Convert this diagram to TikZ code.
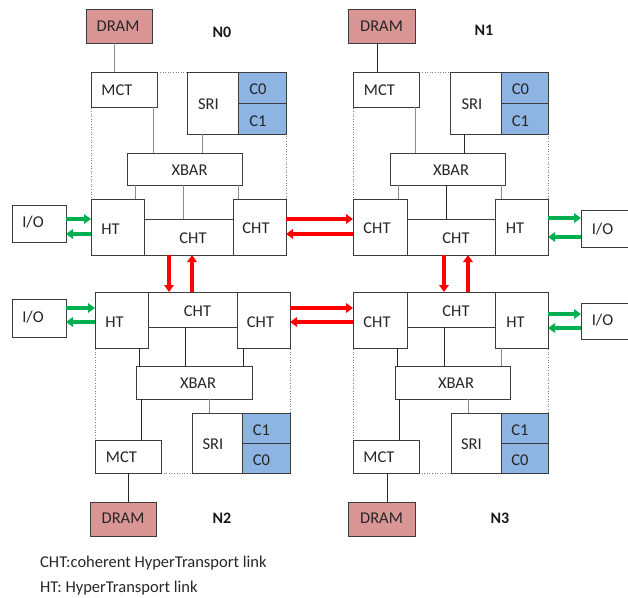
\documentclass[tikz,border=0pt]{standalone}
\usepackage{fontspec}
\setmainfont{Carlito}
\usetikzlibrary{arrows.meta}
\definecolor{dramc}{RGB}{217,150,148}
\definecolor{corec}{RGB}{141,180,226}
\definecolor{boxc}{RGB}{60,60,60}
\definecolor{arrr}{RGB}{255,0,0}
\definecolor{arrg}{RGB}{0,176,80}
\newcommand\bx[9][]{%
 \pgfmathsetmacro\bxcx{(#3+#5)/2}%
 \pgfmathsetmacro\bxcy{(#4+#6)/2}%
 \pgfmathsetmacro\bxw{#5-#3}%
 \pgfmathsetmacro\bxh{#6-#4}%
 \node[box,minimum width=\bxw pt,minimum height=\bxh pt,
   label={[txt,xshift=#8pt,yshift={-(#9pt)}]center:#7},#1] (#2) at (\bxcx,\bxcy) {};}
\tikzset{
 box/.style={draw=boxc,fill=white,line width=0.9pt,inner sep=0pt,outer sep=0pt},
 dram/.style={fill=dramc},
 core/.style={fill=corec},
 txt/.style={font=\fontsize{16.5}{19}\selectfont,text=black!85,inner sep=0pt},
 nlbl/.style={font=\fontsize{16}{19}\selectfont\bfseries,text=black!90,inner sep=0pt},
 outl/.style={draw=gray,dotted,line width=0.6pt},
 ln/.style={draw=black!85,line width=0.9pt},
 lng/.style={draw=gray!90,line width=0.9pt},
 rarr/.style={draw=arrr,line width=3.2pt,-{Triangle[length=7pt,width=9.5pt]}},
 garr/.style={draw=arrg,line width=3.2pt,-{Triangle[length=7pt,width=9.5pt]}},
}
\begin{document}
\begin{tikzpicture}[x=1pt,y=-1pt]
\useasboundingbox (0,0) rectangle (628,597);
% ---------- outlines
\draw[outl] (91,72) rectangle (286,255);
\draw[outl] (353,72) rectangle (548,255);
\draw[outl] (95,292) rectangle (290,473);
\draw[outl] (353,292) rectangle (548,473);
% ---------- N0
\bx[dram]{dram0}{86}{9}{152}{43}{DRAM}{-1}{0}
\node[nlbl] (n0) at (222,32) {N0};
\bx{mct0}{91}{72}{157}{107}{MCT}{-7}{1}
\bx{sri0}{187}{72}{238}{134}{SRI}{-4}{1}
\bx[core]{c00}{238}{72}{286}{103}{C0}{-4}{1.5}
\bx[core]{c10}{238}{103}{286}{134}{C1}{-4}{2.5}
\bx{xbar0}{127}{153}{242}{185}{XBAR}{5}{1}
\bx{ht0}{91}{199}{144}{255}{HT}{-7}{2}
\bx{chtm0}{144}{219}{233}{255}{CHT}{4.5}{1}
\bx{chtr0}{233}{199}{286}{255}{CHT}{-3.5}{1}
\bx{io0}{12}{205}{66}{242}{I/O}{-6}{-1.5}
\draw[lng] (dram0.south -| 114,0) -- (mct0.north -| 114,0);
\draw[lng] (mct0.south -| 153,0) -- (xbar0.north -| 153,0);
\draw[lng] (sri0.south -| 202,0) -- (xbar0.north -| 202,0);
\draw[lng] (xbar0.south -| 135,0) -- (ht0.north -| 135,0);
\draw[lng] (xbar0.south -| 183,0) -- (chtm0.north -| 183,0);
\draw[lng] (xbar0.south -| 238,0) -- (chtr0.north -| 238,0);
% ---------- N1
\bx[dram]{dram1}{348}{9}{415}{43}{DRAM}{0}{0}
\node[nlbl] (n1) at (484,30) {N1};
\bx{mct1}{353}{72}{419}{107}{MCT}{-6.5}{1}
\bx{sri1}{450}{72}{501}{134}{SRI}{-3.5}{1}
\bx[core]{c01}{501}{72}{548}{103}{C0}{-4}{1.5}
\bx[core]{c11}{501}{103}{548}{134}{C1}{-4}{2.5}
\bx{xbar1}{390}{153}{505}{185}{XBAR}{3.5}{1}
\bx{chtl1}{353}{199}{407}{255}{CHT}{-3}{1}
\bx{chtm1}{407}{219}{495}{255}{CHT}{5}{1}
\bx{ht1}{495}{199}{548}{255}{HT}{-6.5}{1}
\bx{io1}{581}{210}{628}{247}{I/O}{-2}{0.5}
\draw[ln] (dram1.south -| 377,0) -- (mct1.north -| 377,0);
\draw[lng] (mct1.south -| 415,0) -- (xbar1.north -| 415,0);
\draw[ln] (sri1.south -| 464,0) -- (xbar1.north -| 464,0);
\draw[lng] (xbar1.south -| 398,0) -- (chtl1.north -| 398,0);
\draw[ln] (xbar1.south -| 446,0) -- (chtm1.north -| 446,0);
\draw[lng] (xbar1.south -| 501,0) -- (ht1.north -| 501,0);
% ---------- N2
\bx{ht2}{95}{292}{148}{348}{HT}{-7}{2}
\bx{chtm2}{148}{292}{237}{327}{CHT}{5}{1.5}
\bx{chtr2}{237}{292}{290}{348}{CHT}{-3}{2}
\bx{xbar2}{136}{366}{252}{399}{XBAR}{4}{0.5}
\bx{sri2}{192}{413}{242}{473}{SRI}{-4}{1}
\bx[core]{c12}{242}{413}{290}{443}{C1}{-4.5}{2}
\bx[core]{c02}{242}{443}{290}{473}{C0}{-4.5}{2}
\bx{mct2}{95}{440}{161}{473}{MCT}{-6.5}{0.5}
\bx[dram]{dram2}{90}{502}{156}{536}{DRAM}{0}{-1}
\node[nlbl] (n2) at (222,518) {N2};
\bx{io2}{12}{299}{66}{337}{I/O}{-6}{-1}
\draw[ln] (ht2.south -| 139,0) -- (xbar2.north -| 139,0);
\draw[ln] (chtm2.south -| 185,0) -- (xbar2.north -| 185,0);
\draw[ln] (chtr2.south -| 243,0) -- (xbar2.north -| 243,0);
\draw[ln] (xbar2.south -| 141,0) -- (mct2.north -| 141,0);
\draw[lng] (xbar2.south -| 209,0) -- (sri2.north -| 209,0);
\draw[ln] (mct2.south -| 128,0) -- (dram2.north -| 128,0);
% ---------- N3
\bx{chtl3}{353}{292}{407}{348}{CHT}{-3}{2}
\bx{chtm3}{407}{292}{495}{327}{CHT}{5}{1.5}
\bx{ht3}{495}{292}{548}{348}{HT}{-6}{2}
\bx{xbar3}{395}{366}{510}{399}{XBAR}{3.5}{0.5}
\bx{sri3}{451}{413}{501}{473}{SRI}{-4.5}{1}
\bx[core]{c13}{501}{413}{548}{443}{C1}{-4.5}{2}
\bx[core]{c03}{501}{443}{548}{473}{C0}{-4.5}{2}
\bx{mct3}{353}{440}{419}{473}{MCT}{-7}{0.5}
\bx[dram]{dram3}{348}{502}{415}{536}{DRAM}{0}{-1}
\node[nlbl] (n3) at (500,518) {N3};
\bx{io3}{581}{303}{628}{339}{I/O}{-2}{-1}
\draw[ln] (chtl3.south -| 397,0) -- (xbar3.north -| 397,0);
\draw[ln] (chtm3.south -| 444,0) -- (xbar3.north -| 444,0);
\draw[lng] (ht3.south -| 501,0) -- (xbar3.north -| 501,0);
\draw[ln] (xbar3.south -| 399,0) -- (mct3.north -| 399,0);
\draw[lng] (xbar3.south -| 468,0) -- (sri3.north -| 468,0);
\draw[ln] (mct3.south -| 387,0) -- (dram3.north -| 387,0);
% ---------- red links
\draw[rarr] (chtr0.east |- 0,219) -- (chtl1.west |- 0,219);
\draw[rarr] (chtl1.west |- 0,234) -- (chtr0.east |- 0,234);
\draw[rarr] (chtr2.east |- 0,308) -- (chtl3.west |- 0,308);
\draw[rarr] (chtl3.west |- 0,322) -- (chtr2.east |- 0,322);
\draw[rarr] (chtm0.south -| 169,0) -- (chtm2.north -| 169,0);
\draw[rarr] (chtm2.north -| 192,0) -- (chtm0.south -| 192,0);
\draw[rarr] (chtm1.south -| 444,0) -- (chtm3.north -| 444,0);
\draw[rarr] (chtm3.north -| 468,0) -- (chtm1.south -| 468,0);
% ---------- green links
\draw[garr] (io0.east |- 0,219) -- (ht0.west |- 0,219);
\draw[garr] (ht0.west |- 0,234) -- (io0.east |- 0,234);
\draw[garr] (ht1.east |- 0,218) -- (io1.west |- 0,218);
\draw[garr] (io1.west |- 0,237) -- (ht1.east |- 0,237);
\draw[garr] (io2.east |- 0,308) -- (ht2.west |- 0,308);
\draw[garr] (ht2.west |- 0,322) -- (io2.east |- 0,322);
\draw[garr] (ht3.east |- 0,314) -- (io3.west |- 0,314);
\draw[garr] (io3.west |- 0,328) -- (ht3.east |- 0,328);
% ---------- legend
\node[txt,anchor=west] (leg1) at (40,563) {CHT:coherent HyperTransport link};
\node[txt,anchor=west] (leg2) at (40,588) {HT: HyperTransport link};
\end{tikzpicture}
\end{document}
